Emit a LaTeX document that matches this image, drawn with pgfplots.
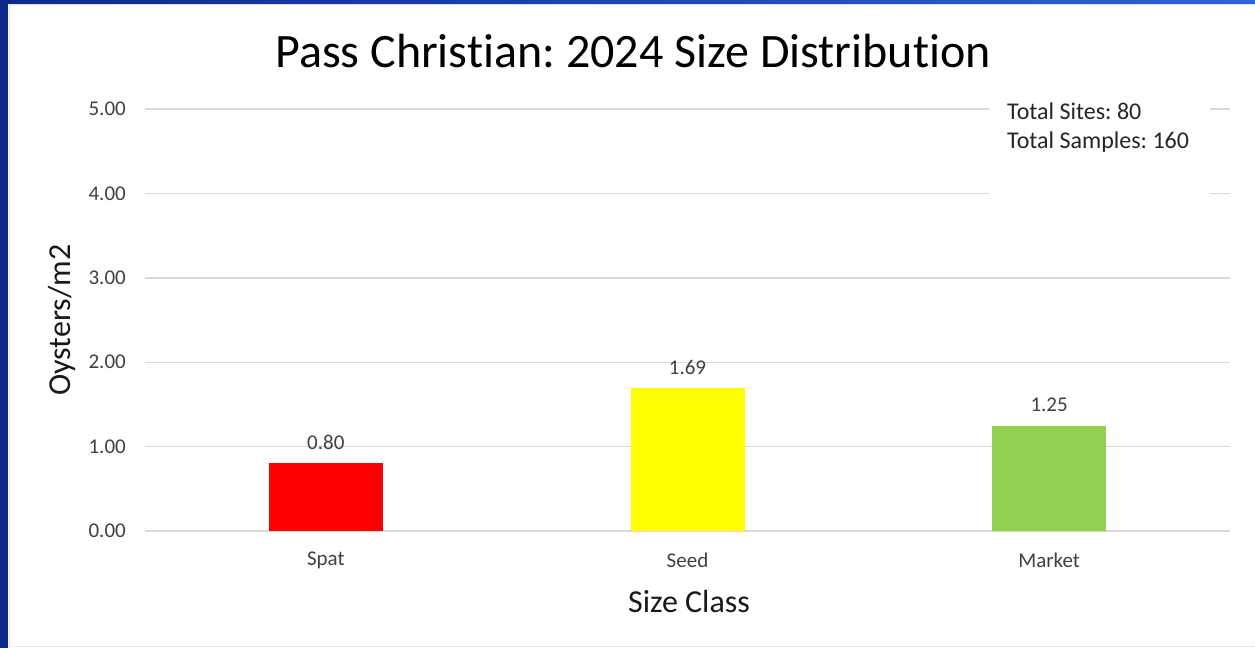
\documentclass[border=0pt]{standalone}
\usepackage{fontspec}
\setmainfont{Carlito}[Ligatures=NoCommon]
\usepackage{pgfplots}
\pgfplotsset{compat=1.18}
\frenchspacing
\definecolor{gridgray}{HTML}{D9D9D9}
\definecolor{txtgray}{HTML}{404040}
\definecolor{barred}{HTML}{FF0000}
\definecolor{baryellow}{HTML}{FFFF00}
\definecolor{bargreen}{HTML}{92D050}
\definecolor{frameblue}{HTML}{0B2A8C}
\definecolor{framelight}{HTML}{2E62D6}
\begin{document}
\begin{tikzpicture}[x=1pt,y=1pt]
\fill[white] (0,0) rectangle (1255,-648);
\fill[left color=frameblue,right color=framelight] (0,0) rectangle (1255,-3);
\fill[frameblue] (0,0) rectangle (8,-648);
\draw[gray!25, line width=1pt] (9,-4.5) -- (1255,-4.5);
\draw[gray!25, line width=1pt] (9.5,-4) -- (9.5,-648);
\draw[gray!15, line width=1pt] (9,-646.5) -- (1255,-646.5);
\begin{axis}[
  at={(145pt,-531pt)}, anchor=south west,
  scale only axis, width=1085pt, height=422pt,
  clip=false,
  xmin=-0.5, xmax=2.5, ymin=0, ymax=5,
  xtick={0,1,2}, xticklabels={Spat,Seed,Market},
  ytick={0,1,2,3,4,5},
  ymajorgrids, major grid style={draw=gridgray, line width=1.4pt},
  axis line style={draw=none},
  major tick length=0pt,
  /pgf/number format/assume math mode=true,
  yticklabel style={/pgf/number format/.cd, fixed, fixed zerofill, precision=2, /tikz/.cd,
    anchor=east, inner sep=0pt, xshift=-19pt, font=\fontsize{21}{25}\selectfont, text=txtgray},
  xticklabel style={anchor=center, inner sep=0pt, yshift=-29pt, font=\fontsize{21}{25}\selectfont, text=txtgray},
  title={Pass Christian: 2024 Size Distribution},
  title style={at={(0.4498,1.123)}, anchor=center, font=\fontsize{48}{56}\selectfont, text=black},
  xlabel={Size Class},
  xlabel style={at={(0.5014,-0.166)}, anchor=center, font=\fontsize{32}{38}\selectfont, text=black!90},
  ylabel={Oysters/m2},
  ylabel style={at={(-0.0765,0.5)}, anchor=center, rotate=0, font=\fontsize{32}{38}\selectfont, text=black!90},
  nodes near coords={\pgfmathprintnumber[fixed,fixed zerofill,precision=2,assume math mode=true]{\pgfplotspointmeta}},
  every node near coord/.append style={anchor=south, inner sep=0pt, yshift=14pt, font=\fontsize{21}{25}\selectfont, text=txtgray},
]
\addplot[ybar, bar width=114pt, bar shift=0pt, fill=barred, draw=none] coordinates {(0,0.80)};
\addplot[ybar, bar width=114pt, bar shift=0pt, fill=baryellow, draw=none] coordinates {(1,1.69)};
\addplot[ybar, bar width=114pt, bar shift=0pt, fill=bargreen, draw=none] coordinates {(2,1.25)};
\fill[white] (rel axis cs:0.7779,1.04) rectangle (rel axis cs:0.9816,0.77);
\node[anchor=base west, inner sep=0pt, font=\fontsize{24}{28}\selectfont, text=black!85] at (rel axis cs:0.7945,0.974) {Total Sites: 80};
\node[anchor=base west, inner sep=0pt, font=\fontsize{24}{28}\selectfont, text=black!85] at (rel axis cs:0.7945,0.9076) {Total Samples: 160};
\end{axis}
\pgfresetboundingbox
\useasboundingbox (0,0) rectangle (1255,-648);
\end{tikzpicture}
\end{document}
